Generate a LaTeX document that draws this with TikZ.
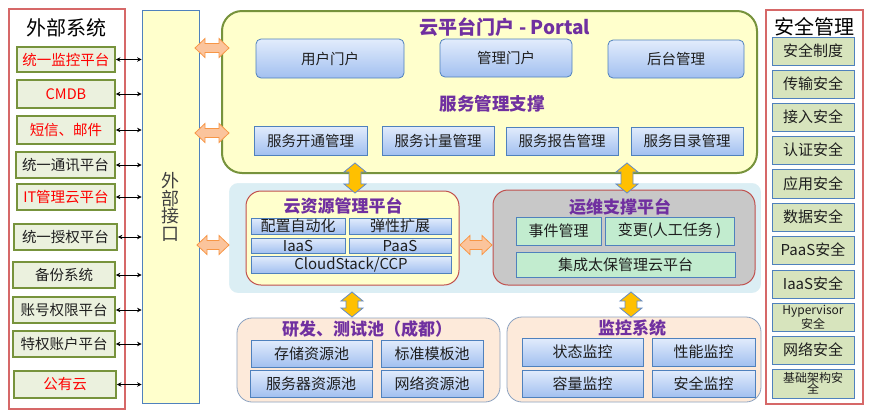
\documentclass[tikz,border=0pt]{standalone}
\usepackage{fontspec}
\setmainfont{Noto Sans CJK SC}
\usetikzlibrary{arrows.meta}
\definecolor{redb}{RGB}{214,104,104}
\definecolor{olive}{RGB}{119,147,60}
\definecolor{lgreen}{RGB}{235,241,222}
\definecolor{secfill}{RGB}{215,228,189}
\definecolor{blueb}{RGB}{79,129,189}
\definecolor{cream}{RGB}{255,255,204}
\definecolor{purp}{RGB}{112,48,160}
\definecolor{btop}{RGB}{226,236,252}
\definecolor{bbot}{RGB}{162,192,240}
\definecolor{midbg}{RGB}{219,238,244}
\definecolor{brick}{RGB}{192,80,77}
\definecolor{grayf}{RGB}{200,200,200}
\definecolor{mint}{RGB}{194,236,207}
\definecolor{peach}{RGB}{253,234,218}
\definecolor{peachb}{RGB}{140,162,192}
\definecolor{orfill}{RGB}{251,196,156}
\definecolor{orline}{RGB}{247,150,70}
\definecolor{gold}{RGB}{255,192,0}
\definecolor{goldb}{RGB}{100,140,200}
\definecolor{txt}{RGB}{30,30,30}
\definecolor{gtxt}{RGB}{64,64,64}
\newcommand\bx[7]{\node[#6, minimum width={(#4-#2)*1pt}, minimum height={(#5-#3)*1pt}] (#1) at ({(#2+#4)/2},{(#3+#5)/2}) {#7};}
\newcommand\harr[3]{\filldraw[orarr] (#1,#3) -- ({#1+10},{#3-9.5}) -- ({#1+10},{#3-4.5}) -- ({#2-10},{#3-4.5}) -- ({#2-10},{#3-9.5}) -- (#2,#3) -- ({#2-10},{#3+9.5}) -- ({#2-10},{#3+4.5}) -- ({#1+10},{#3+4.5}) -- ({#1+10},{#3+9.5}) -- cycle;}
\newcommand\varr[3]{\filldraw[goldarr] (#1,#2) -- ({#1+11},{#2+9}) -- ({#1+6},{#2+9}) -- ({#1+6},{#3-9}) -- ({#1+11},{#3-9}) -- (#1,#3) -- ({#1-11},{#3-9}) -- ({#1-6},{#3-9}) -- ({#1-6},{#2+9}) -- ({#1-11},{#2+9}) -- cycle;}
\begin{document}
\begin{tikzpicture}[x=1pt,y=-1pt,
  leftitem/.style={draw=olive, line width=1.8pt, fill=lgreen, inner sep=0pt, text=txt, font=\fontsize{14.5}{16}\selectfont},
  redtxt/.style={text=red},
  secitem/.style={draw=blueb, line width=0.8pt, fill=secfill, inner sep=0pt, text=txt, font=\fontsize{15}{16}\selectfont},
  secsmall/.style={secitem, align=center, font=\fontsize{12}{11.5}\selectfont},
  btn/.style={draw=blueb, line width=0.8pt, rounded corners=5pt, top color=btop, bottom color=bbot, inner sep=0pt, text=txt, font=\fontsize{14.5}{16}\selectfont},
  svc/.style={draw=blueb, line width=0.8pt, top color=btop, bottom color=bbot, inner sep=0pt, text=txt, font=\fontsize{14.5}{16}\selectfont},
  subb/.style={svc, font=\fontsize{15}{16}\selectfont},
  mintbox/.style={draw=blueb, line width=0.8pt, fill=mint, inner sep=0pt, text=txt, font=\fontsize{15}{16}\selectfont},
  ttl/.style={text=purp, inner sep=0pt, font=\bfseries\fontsize{17}{18}\selectfont},
  orarr/.style={fill=orfill, draw=orline, line width=0.8pt},
  goldarr/.style={fill=gold, draw=goldb, line width=0.8pt},
  link/.style={{Stealth[length=4.5pt,width=4.5pt]}-{Stealth[length=4.5pt,width=4.5pt]}, line width=0.8pt, black}
]
\useasboundingbox (0,0) rectangle (871,416);
\fill[white] (0,0) rectangle (871,416);

% ---------- left: external systems
\bx{ext}{9}{9}{125}{409}{draw=redb, line width=1.5pt, fill=white}{}
\node[font=\fontsize{20}{22}\selectfont, text=black] (extt) at (67,28) {外部系统};
\bx{iface}{142}{10}{199}{403}{draw=blueb, line width=0.8pt, fill=cream}{}
\node[align=center, text=gtxt, font=\fontsize{18}{17.5}\selectfont] (ifacet) at (170,207) {外\\部\\接\\口};

\bx{l1}{17}{47}{115}{72}{leftitem,redtxt}{统一监控平台}
\bx{l2}{17}{80}{115}{108}{leftitem,redtxt}{CMDB}
\bx{l3}{17}{116}{115}{144}{leftitem,redtxt}{短信、邮件}
\bx{l4}{16}{152}{115}{178}{leftitem}{统一通讯平台}
\bx{l5}{17}{184}{115}{210}{leftitem,redtxt}{IT管理云平台}
\bx{l6}{14}{224}{117}{250}{leftitem}{统一授权平台}
\bx{l7}{13}{262}{115}{288}{leftitem}{备份系统}
\bx{l8}{13}{297}{115}{323}{leftitem}{账号权限平台}
\bx{l9}{13}{331}{115}{357}{leftitem}{特权账户平台}
\bx{l10}{14}{371}{116}{398}{leftitem,redtxt}{公有云}
\foreach \n in {l1,l2,l3,l4,l5,l6,l7,l8,l9,l10}
  \draw[link] (\n.east) -- (\n.east -| iface.west);

% ---------- portal
\bx{portal}{222}{11}{757}{173}{draw=olive, line width=2pt, fill=cream, rounded corners=20pt}{}
\node[ttl, font=\bfseries\fontsize{19}{20}\selectfont] (portalt) at (505,27) {云平台门户 - Portal};
\bx{p1}{256}{39}{404}{78}{btn}{用户门户}
\bx{p2}{440}{39}{572}{77}{btn}{管理门户}
\bx{p3}{608}{40}{744}{78}{btn}{后台管理}
\node[ttl, font=\bfseries\fontsize{17.5}{18}\selectfont] (svct) at (492,104) {服务管理支撑};
\bx{s1}{254}{126}{367}{155}{svc}{服务开通管理}
\bx{s2}{382}{126}{494}{155}{svc}{服务计量管理}
\bx{s3}{506}{127}{618}{155}{svc}{服务报告管理}
\bx{s4}{631}{127}{743}{155}{svc}{服务目录管理}

% ---------- middle
\bx{mid}{228}{182}{762}{294}{draw=white, line width=2pt, fill=midbg, rounded corners=10pt}{}
\bx{res}{246}{191}{459}{285}{draw=brick, line width=1pt, fill=cream, rounded corners=15pt}{}
\node[ttl] (rest) at (343,206) {云资源管理平台};
\bx{r1}{251}{218}{345}{234}{subb}{配置自动化}
\bx{r2}{349}{218}{451}{234}{subb}{弹性扩展}
\bx{r3}{251}{238}{345}{253}{subb}{IaaS}
\bx{r4}{349}{238}{451}{253}{subb}{PaaS}
\bx{r5}{251}{256}{451}{273}{subb}{CloudStack/CCP}

\bx{ops}{493}{190}{755}{285}{draw=brick, line width=1pt, fill=grayf, rounded corners=15pt}{}
\node[ttl] (opst) at (620,207) {运维支撑平台};
\bx{o1}{516}{217}{601}{245}{mintbox}{事件管理}
\bx{o2}{605}{217}{734}{245}{mintbox}{变更(人工任务 )}
\bx{o3}{516}{252}{735}{277}{mintbox}{集成太保管理云平台}

% ---------- bottom
\bx{dev}{237}{318}{500}{402}{draw=peachb, line width=0.8pt, fill=peach, rounded corners=15pt}{}
\node[ttl] (devt) at (367,329) {研发、测试池（成都）};
\bx{d1}{251}{340}{372}{367}{subb}{存储资源池}
\bx{d2}{381}{340}{483}{367}{subb}{标准模板池}
\bx{d3}{250}{370}{372}{397}{subb}{服务器资源池}
\bx{d4}{381}{370}{483}{397}{subb}{网络资源池}

\bx{mon}{507}{317}{761}{402}{draw=peachb, line width=0.8pt, fill=peach, rounded corners=15pt}{}
\node[ttl] (mont) at (632,328) {监控系统};
\bx{m1}{522}{338}{643}{366}{subb}{状态监控}
\bx{m2}{652}{338}{755}{366}{subb}{性能监控}
\bx{m3}{522}{370}{643}{397}{subb}{容量监控}
\bx{m4}{652}{370}{755}{397}{subb}{安全监控}

% ---------- right: security
\bx{sec}{766}{10}{863}{404}{draw=redb, line width=1.5pt, fill=white}{}
\node[font=\fontsize{20}{22}\selectfont, text=black] (sect) at (814,27) {安全管理};
\bx{k1}{772}{37}{854}{65}{secitem}{安全制度}
\bx{k2}{772}{70}{854}{98}{secitem}{传输安全}
\bx{k3}{772}{103}{854}{131}{secitem}{接入安全}
\bx{k4}{772}{136}{854}{164}{secitem}{认证安全}
\bx{k5}{772}{169}{854}{198}{secitem}{应用安全}
\bx{k6}{772}{203}{854}{231}{secitem}{数据安全}
\bx{k7}{772}{236}{854}{264}{secitem}{PaaS安全}
\bx{k8}{772}{270}{854}{298}{secitem}{IaaS安全}
\bx{k9}{772}{303}{854}{331}{secsmall}{Hypervisor\\安全}
\bx{k10}{772}{336}{854}{364}{secitem}{网络安全}
\bx{k11}{772}{369}{854}{398}{secsmall}{基础架构安\\全}

% ---------- block arrows
\harr{195}{229}{48}
\harr{195}{229}{133}
\harr{197}{229}{245}
\harr{460}{492}{245}
\varr{355}{163}{193}
\varr{627}{163}{193}
\varr{352}{292}{317}
\varr{631}{292}{317}
\end{tikzpicture}
\end{document}
